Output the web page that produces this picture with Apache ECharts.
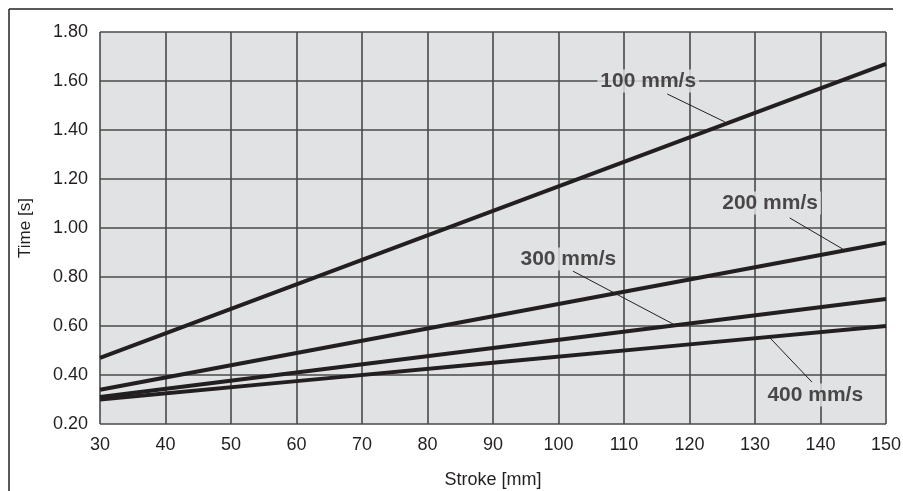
<!DOCTYPE html>
<html>
<head>
<meta charset="utf-8">
<script src="https://cdn.jsdelivr.net/npm/echarts@6/dist/echarts.min.js"></script>
<style>
  html, body { margin: 0; padding: 0; background: #fff; }
  #chart { width: 903px; height: 491px; }
</style>
</head>
<body>
<div id="chart"></div>
<script>
// stroke [mm] / time [s]
const strokes = [30, 60, 90, 120, 150];
const v100 = [0.47, 0.77, 1.07, 1.37, 1.67];
const v200 = [0.34, 0.49, 0.64, 0.79, 0.94];
const v300 = [0.31, 0.41, 0.51, 0.61, 0.71];
const v400 = [0.30, 0.375, 0.45, 0.525, 0.60];

// label position + leader line, in data units
const speedNames = ['100 mm/s', '200 mm/s', '300 mm/s', '400 mm/s'];
const labelPos = [[113.7, 1.60], [132.3, 1.102], [101.5, 0.873], [139.2, 0.318]];
const leaderFrom = [[116.6, 1.547], [135.3, 1.041], [102.2, 0.824], [138.7, 0.371]];
const leaderTo = [[125.4, 1.433], [143.4, 0.914], [117.5, 0.608], [132.3, 0.551]];

const font = '"Liberation Sans", Arial, sans-serif';
const ink = '#231f20';
const plotBg = '#e1e2e4';
const gridCol = '#4a4a4a';

function pairs(vals) {
    return strokes.map((s, i) => [s, vals[i]]);
}

const chart = echarts.init(document.getElementById('chart'));

const curves = [v100, v200, v300, v400].map((vals, i) => ({
    name: speedNames[i],
    type: 'line',
    data: pairs(vals),
    symbol: 'none',
    silent: true,
    lineStyle: { color: ink, width: 4 },
    z: 3
}));

chart.setOption({
    animation: false,
    textStyle: { fontFamily: font },
    grid: {
        left: 100, right: 17, top: 32, bottom: 67,
        containLabel: false, outerBoundsMode: 'none',
        show: true, backgroundColor: plotBg, borderWidth: 0
    },
    xAxis: {
        type: 'value', min: 30, max: 150, interval: 10,
        name: 'Stroke [mm]', nameLocation: 'middle', nameGap: 47,
        nameTextStyle: { fontSize: 18, color: ink, fontFamily: font },
        axisLine: { show: false }, axisTick: { show: false },
        axisLabel: { fontSize: 18, color: ink, margin: 12, fontFamily: font },
        splitLine: { show: true, lineStyle: { color: gridCol, width: 1.6 } }
    },
    yAxis: {
        type: 'value', min: 0.2, max: 1.8, interval: 0.2,
        name: 'Time [s]', nameLocation: 'middle', nameGap: 66, nameRotate: 90,
        nameTextStyle: { fontSize: 17, color: ink, fontFamily: font },
        axisLine: { show: false }, axisTick: { show: false },
        axisLabel: { fontSize: 18, color: ink, margin: 12, fontFamily: font,
            formatter: v => v.toFixed(2) },
        splitLine: { show: true, lineStyle: { color: gridCol, width: 1.6 } }
    },
    graphic: [
        { type: 'line', shape: { x1: 9, y1: 9, x2: 893, y2: 9 },
          style: { stroke: '#222', lineWidth: 1.5 } },
        { type: 'line', shape: { x1: 9, y1: 9, x2: 9, y2: 491 },
          style: { stroke: '#222', lineWidth: 1.5 } }
    ],
    series: curves.concat([
        {
            type: 'lines',
            coordinateSystem: 'cartesian2d',
            silent: true,
            data: leaderFrom.map((p, i) => ({ coords: [p, leaderTo[i]] })),
            lineStyle: { color: ink, width: 1, opacity: 1 },
            z: 4
        },
        {
            type: 'scatter',
            silent: true,
            symbolSize: 0,
            data: labelPos.map((p, i) => ({ value: p, name: speedNames[i] })),
            label: {
                show: true, position: 'inside',
                formatter: p => p.name,
                fontSize: 21, fontWeight: 'bold', color: ink, fontFamily: font,
                textBorderWidth: 0,
                backgroundColor: plotBg, padding: [1, 3]
            },
            z: 5
        }
    ])
});
</script>
</body>
</html>
